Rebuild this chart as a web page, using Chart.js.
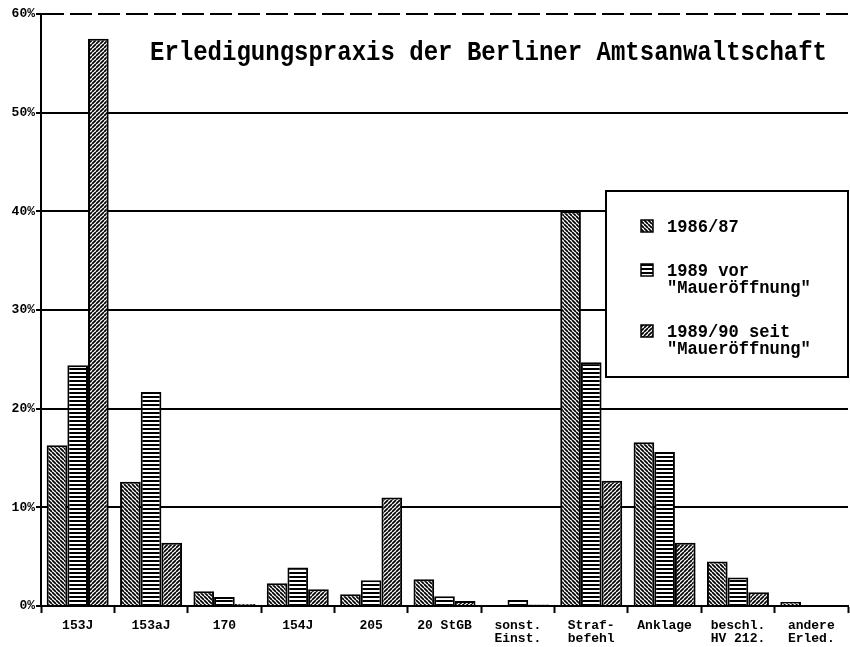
<!DOCTYPE html>
<html>
<head>
<meta charset="utf-8">
<script src="https://cdn.jsdelivr.net/npm/chart.js@4/dist/chart.umd.min.js"></script>
<style>
  html, body { margin: 0; padding: 0; background: #fff; }
  canvas { display: block; }
</style>
</head>
<body>
<canvas id="c" width="850" height="647"></canvas>
<script>
const TITLE = 'Erledigungspraxis der Berliner Amtsanwaltschaft';
const categories = [
  '153J', '153aJ', '170', '154J', '205', '20 StGB',
  ['sonst.', 'Einst.'], ['Straf-', 'befehl'], 'Anklage',
  ['beschl.', 'HV 212.'], ['andere', 'Erled.']
];
const seriesLabels = ['1986/87', '1989 vor\n"Maueröffnung"', '1989/90 seit\n"Maueröffnung"'];
const values1986 = [16.3, 12.6, 1.5, 2.3, 1.2, 2.7, 0.1, 40.0, 16.6, 4.5, 0.4];
const values1989vor = [24.4, 21.7, 0.9, 3.9, 2.6, 1.0, 0.6, 24.7, 15.6, 2.9, 0.0];
const values1989seit = [57.5, 6.4, 0.2, 1.7, 11.0, 0.5, 0.15, 12.7, 6.4, 1.4, 0.0];
const yTicks = [0, 10, 20, 30, 40, 50, 60];

const mainCtx = document.getElementById('c').getContext('2d');

function makePattern(type) {
  const c = document.createElement('canvas');
  const s = 4;
  c.width = s; c.height = s;
  const g = c.getContext('2d');
  g.fillStyle = '#fff';
  g.fillRect(0, 0, s, s);
  g.fillStyle = '#000';
  g.strokeStyle = '#000';
  g.lineWidth = 1.7;
  if (type === 'horiz') {
    g.fillRect(0, 0, s, 2);
  } else {
    g.beginPath();
    for (const x0 of [-s, 0, s]) {
      if (type === 'back') { g.moveTo(x0, 0); g.lineTo(x0 + s, s); }
      else { g.moveTo(x0, s); g.lineTo(x0 + s, 0); }
    }
    g.stroke();
  }
  return mainCtx.createPattern(c, 'repeat');
}

const patterns = [makePattern('back'), makePattern('horiz'), makePattern('fwd')];

function drawScaledText(ctx, text, x, y, font, scaleX) {
  ctx.save();
  ctx.font = font;
  ctx.translate(x, y);
  ctx.scale(scaleX, 1);
  ctx.fillText(text, 0, 0);
  ctx.restore();
}

const overlayPlugin = {
  id: 'overlay',
  afterDatasetsDraw(chart) {
    const ctx = chart.ctx;
    ctx.save();
    ctx.fillStyle = '#000';
    ctx.textBaseline = 'alphabetic';
    ctx.textAlign = 'left';
    // title
    ctx.font = 'bold 28px "Liberation Mono"';
    const w = ctx.measureText(TITLE).width;
    drawScaledText(ctx, TITLE, 150, 60, 'bold 28px "Liberation Mono"', 677 / w);

    // legend box
    const bx = 606, by = 191, bw = 242, bh = 186;
    ctx.fillStyle = '#fff';
    ctx.fillRect(bx, by, bw, bh);
    ctx.strokeStyle = '#000';
    ctx.lineWidth = 2;
    ctx.strokeRect(bx, by, bw, bh);

    const itemY = [232, 276, 337];
    chart.data.datasets.forEach((ds, i) => {
      const y = itemY[i];
      ctx.fillStyle = patterns[i];
      ctx.fillRect(641, y - 12, 12, 12);
      ctx.strokeStyle = '#000';
      ctx.lineWidth = 1.5;
      ctx.strokeRect(641, y - 12, 12, 12);
      ctx.fillStyle = '#000';
      ds.label.split('\n').forEach((line, j) => {
        drawScaledText(ctx, line, 667, y + j * 17, 'bold 19px "Liberation Mono"', 0.9);
      });
    });
    ctx.restore();
  }
};

new Chart(mainCtx, {
  type: 'bar',
  data: {
    labels: categories,
    datasets: [values1986, values1989vor, values1989seit].map((vals, i) => ({
      label: seriesLabels[i],
      data: vals,
      backgroundColor: patterns[i],
      borderColor: '#000',
      borderWidth: 2,
      borderSkipped: 'bottom',
      categoryPercentage: 0.845,
      barPercentage: 1.0
    }))
  },
  options: {
    responsive: false,
    animation: false,
    layout: { padding: { top: 14, right: 2, left: 0, bottom: 0 } },
    plugins: {
      legend: { display: false },
      title: { display: false },
      tooltip: { enabled: false }
    },
    scales: {
      x: {
        afterFit: s => { s.height = 41; },
        grid: {
          offset: true,
          drawOnChartArea: false,
          drawTicks: true,
          tickLength: 7,
          tickWidth: 2,
          tickColor: '#000'
        },
        border: { display: true, color: '#000', width: 2 },
        ticks: {
          color: '#000',
          padding: 6,
          maxRotation: 0,
          autoSkip: false,
          font: { family: '"Liberation Mono"', weight: 'bold', size: 13, lineHeight: 1.0 }
        }
      },
      y: {
        min: 0,
        max: 60,
        afterFit: s => { s.width = 41; },
        afterBuildTicks: s => { s.ticks = yTicks.map(v => ({ value: v })); },
        grid: {
          color: '#000',
          lineWidth: 2,
          drawTicks: true,
          tickLength: 5,
          tickWidth: 2,
          tickColor: '#000'
        },
        border: {
          display: true, color: '#000', width: 2,
          dash: ctx => (ctx.tick && ctx.tick.value === 60) ? [22, 6] : []
        },
        ticks: {
          color: '#000',
          padding: 1,
          callback: v => v + '%',
          font: { family: '"Liberation Mono"', weight: 'bold', size: 13 }
        }
      }
    }
  },
  plugins: [overlayPlugin]
});
</script>
</body>
</html>
